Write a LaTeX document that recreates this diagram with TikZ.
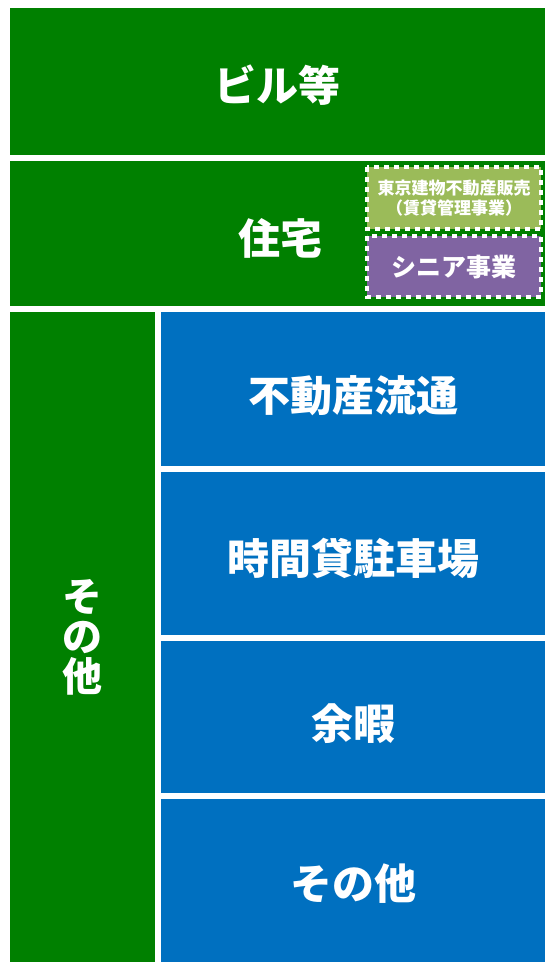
\documentclass[tikz,border=0pt]{standalone}
\usepackage{fontspec}
\setmainfont{Noto Sans CJK JP}
\definecolor{dgreen}{HTML}{008000}
\definecolor{mblue}{HTML}{0070C0}
\definecolor{olive}{HTML}{9BBB59}
\definecolor{lpurple}{HTML}{8064A2}
\newcommand{\lowr}[2][-5pt]{\raisebox{#1}[\height][\depth]{#2}}
\tikzset{
  blk/.style={anchor=north west, inner sep=0pt, outer sep=0pt, text=white, font=\bfseries\fontsize{42}{46}\selectfont},
  gblk/.style={blk, fill=dgreen},
  bblk/.style={blk, fill=mblue},
  dbox/.style={draw=white, line width=3.8pt, dash pattern=on 5pt off 5pt, text=white, inner sep=0pt, align=center},
}
\begin{document}
\begin{tikzpicture}[x=1pt,y=-1pt]
\useasboundingbox[fill=white] (0,0) rectangle (545,962);
\node[gblk, minimum width=535pt, minimum height=147pt] (bldg) at (10,8) {\lowr[-4pt]{ビル等}};
\node[gblk, minimum width=535pt, minimum height=145pt] (home) at (10,161) {};
\node[text=white, font=\bfseries\fontsize{42}{46}\selectfont] (hometext) at (280,238) {住宅};
\draw[dbox, fill=olive] (367,167) rectangle (541,229);
\node[text=white, align=center, font=\bfseries\fontsize{17}{19.5}\selectfont] (tatemono) at (454,198) {東京建物不動産販売\\（賃貸管理事業）};
\draw[dbox, fill=lpurple] (367,236) rectangle (541,297);
\node[text=white, font=\bfseries\fontsize{25}{28}\selectfont] (senior) at (454,267) {シニア事業};
\node[gblk, minimum width=145pt, minimum height=650pt, align=center, font=\bfseries\fontsize{40}{40}\selectfont] (other) at (10,312) {そ\\の\\他};
\node[bblk, minimum width=384pt, minimum height=154pt] (ryutsu) at (161,312) {\lowr[-6.5pt]{不動産流通}};
\node[bblk, minimum width=384pt, minimum height=163pt] (parking) at (161,472) {\lowr[-5pt]{時間貸駐車場}};
\node[bblk, minimum width=384pt, minimum height=152pt] (leisure) at (161,641) {\lowr[-7pt]{余暇}};
\node[bblk, minimum width=384pt, minimum height=163pt] (misc) at (161,799) {\lowr[-3pt]{その他}};
\end{tikzpicture}
\end{document}
